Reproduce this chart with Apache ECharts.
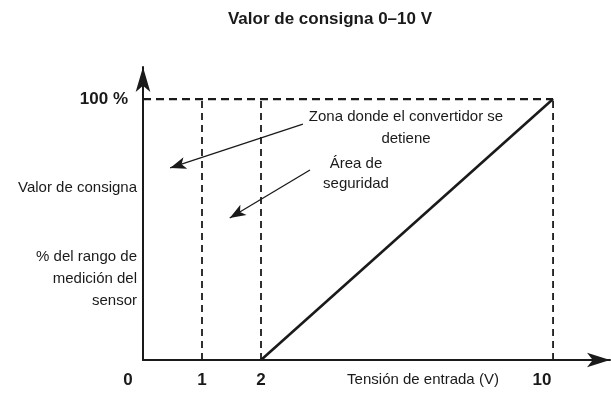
<!DOCTYPE html>
<html><head><meta charset="utf-8">
<script src="https://cdn.jsdelivr.net/npm/echarts@6/dist/echarts.min.js"></script>
<style>html,body{margin:0;padding:0;background:#fff}#c{width:611px;height:395px}</style>
</head><body><div id="c"></div>
<script>
// ---- data ----
const titleText = 'Valor de consigna 0–10 V';
const xTickValues = [0, 1, 2, 10];
const xTickLabels = ['0', '1', '2', '10'];
const yTickValues = [100];
const yTickLabels = ['100 %'];
const xAxisTitle = 'Tensión de entrada (V)';
const yAxisTexts = ['Valor de consigna', '% del rango de\nmedición del\nsensor'];
const lineX = [2, 10];          // setpoint line: input voltage (V)
const lineY = [0, 100];         // setpoint line: % of range
const guideX = [1, 2, 10];      // dashed vertical guides (V)
const guideTop = 100;           // dashed horizontal guide (%)
const annotations = [
  { text: 'Zona donde el convertidor se\ndetiene', from: [2.71, 90.4], to: [0.46, 73.6] },
  { text: 'Área de\nseguridad', from: [2.83, 72.8], to: [1.47, 54.4] }
];

const FONT = 'Liberation Sans';
const chart = echarts.init(document.getElementById('c'));

const series = [];
series.push({
  type: 'line', symbol: 'none', silent: true,
  data: [[0, guideTop], [10, guideTop]],
  lineStyle: { color: '#1a1a1a', width: 2.2, type: [8, 5] }, z: 2
});
guideX.forEach(v => series.push({
  type: 'line', symbol: 'none', silent: true,
  data: [[v, 0], [v, guideTop]],
  lineStyle: { color: '#1a1a1a', width: 1.8, type: [7, 5] }, z: 2
}));
series.push({
  type: 'line', symbol: 'none', silent: true,
  data: lineX.map((x, i) => [x, lineY[i]]),
  lineStyle: { color: '#1a1a1a', width: 2.6 }, z: 3,
  markLine: {
    silent: true, symbol: ['none', 'arrow'], symbolSize: [9, 16],
    label: { show: false },
    lineStyle: { color: '#1a1a1a', width: 1.3, type: 'solid' },
    data: annotations.map(a => [{ coord: a.from }, { coord: a.to }])
  }
});

const option = {
  animation: false,
  grid: { left: 143, right: 1, top: 67, bottom: 35, outerBoundsMode: 'none', containLabel: false },
  xAxis: {
    type: 'value', min: 0, max: 10.965, interval: 1,
    breaks: [{ start: 3, end: 6.05, gap: 0 }],
    breakArea: { show: false },
    axisLine: { show: true, onZero: false, symbol: ['none', 'arrow'], symbolSize: [11, 23],
      lineStyle: { color: '#1a1a1a', width: 2 } },
    axisTick: { show: false },
    splitLine: { show: false },
    axisLabel: {
      margin: 12, color: '#1a1a1a', fontFamily: FONT, fontWeight: 'bold', fontSize: 17,
      showMinLabel: true, showMaxLabel: false,
      formatter: function (v) {
        const i = xTickValues.indexOf(typeof v === 'number' ? Math.round(v * 1000) / 1000 : v);
        if (i < 0) return '';
        if (xTickValues[i] === 0) return '{l|' + xTickLabels[i] + '}';
        if (xTickValues[i] === 10) return '{m|' + xTickLabels[i] + '}';
        return xTickLabels[i];
      },
      rich: {
        l: { fontFamily: FONT, fontWeight: 'bold', fontSize: 17, color: '#1a1a1a', padding: [0, 30, 0, 0] },
        m: { fontFamily: FONT, fontWeight: 'bold', fontSize: 17, color: '#1a1a1a', padding: [0, 22, 0, 0] }
      }
    }
  },
  yAxis: {
    type: 'value', min: 0, max: 112.3, interval: 100,
    axisLine: { show: true, onZero: false, symbol: ['none', 'arrow'], symbolSize: [11, 25],
      lineStyle: { color: '#1a1a1a', width: 2 } },
    axisTick: { show: false },
    splitLine: { show: false },
    axisLabel: {
      margin: 15, color: '#1a1a1a', fontFamily: FONT, fontWeight: 'bold', fontSize: 17,
      showMaxLabel: false,
      formatter: function (v) {
        const i = yTickValues.indexOf(v);
        return i < 0 ? '' : yTickLabels[i];
      }
    }
  },
  series: series,
  graphic: [
    { type: 'text', style: { text: titleText, x: 330, y: 19, align: 'center', verticalAlign: 'middle',
      font: 'bold 17px ' + FONT, fill: '#1a1a1a' } },
    { type: 'text', style: { text: xAxisTitle, x: 423, y: 380, align: 'center', verticalAlign: 'middle',
      font: '15px ' + FONT, fill: '#1a1a1a' } },
    { type: 'text', style: { text: yAxisTexts[0], x: 137, y: 188, align: 'right', verticalAlign: 'middle',
      font: '15px ' + FONT, fill: '#1a1a1a' } },
    { type: 'text', style: { text: yAxisTexts[1], x: 137, y: 279, align: 'right', verticalAlign: 'middle',
      font: '15px ' + FONT, lineHeight: 22, fill: '#1a1a1a' } },
    { type: 'text', style: { text: annotations[0].text, x: 406, y: 128, align: 'center', verticalAlign: 'middle',
      font: '15px ' + FONT, lineHeight: 22, fill: '#1a1a1a' } },
    { type: 'text', style: { text: annotations[1].text, x: 356, y: 174, align: 'center', verticalAlign: 'middle',
      font: '15px ' + FONT, lineHeight: 20, fill: '#1a1a1a' } }
  ]
};
chart.setOption(option);
</script></body></html>
